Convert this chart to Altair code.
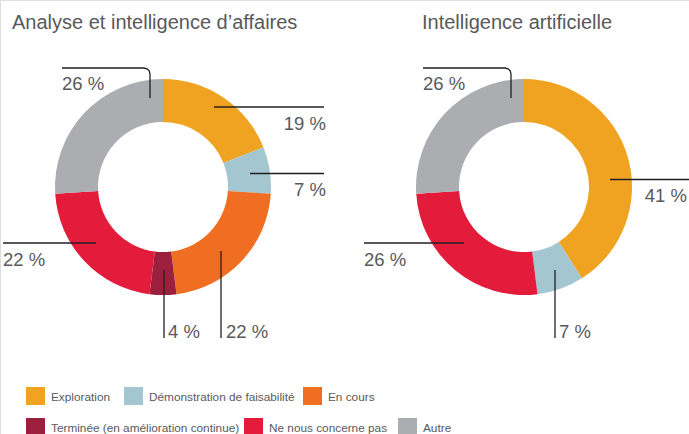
import altair as alt
import pandas as pd

# ---------------- data ----------------
categories = ["Exploration", "Démonstration de faisabilité", "En cours",
              "Terminée (en amélioration continue)", "Ne nous concerne pas", "Autre"]
colors = ["#F0A321", "#A3C6D1", "#F06E21", "#9C1F3D", "#E31C3C", "#ABADB0"]
titles = ["Analyse et intelligence d’affaires", "Intelligence artificielle"]
values_bi = [19, 7, 22, 4, 22, 26]
values_ai = [41, 7, 0, 0, 26, 26]

# ---------------- layout (pixels) ----------------
W, H = 689, 434
TEXT = "#58595B"
FONT = "Liberation Sans"
centers = [(163, 187), (524, 187)]
R_OUT, R_IN = 108, 65
title_pos = [(12, 28.5), (422, 28.5)]

# leader lines / label anchors per donut, keyed by category index
ann = [
    {
        0: ([(214, 107), (324, 107)], (326, 129.5, "right")),
        1: ([(250, 173.5), (324, 173.5)], (326, 195.5, "right")),
        2: ([(221, 251), (221, 338)], (226, 338, "left")),
        3: ([(164, 270), (164, 338)], (168, 338, "left")),
        4: ([(3, 243), (96, 243)], (3, 266, "left")),
        5: ([(62, 68), (144, 68), (147, 68.8), (149.2, 70.9), (150, 74), (150, 98)], (62, 90, "left")),
    },
    {
        0: ([(610, 179.5), (689, 179.5)], (687, 201.5, "right")),
        1: ([(555, 270), (555, 338)], (559, 338, "left")),
        4: ([(364, 243), (464, 243)], (364, 266, "left")),
        5: ([(423, 68), (505, 68), (508, 68.8), (510.2, 70.9), (511, 74), (511, 98)], (423, 90, "left")),
    },
]
legend_sq_x = [26, 124, 303, 26, 244, 398]
legend_row = [0, 0, 0, 1, 1, 1]
legend_sq_y = [(387, 405), (418, 436)]
legend_txt_y = [401, 432]

# ---------------- tables ----------------
xs = alt.Scale(domain=[0, W], range=[0, W], nice=False, zero=False)
ys = alt.Scale(domain=[0, H], range=[0, H], nice=False, zero=False)
cscale = alt.Scale(domain=categories, range=colors)

layers = []
line_rows, lab_rows = [], []
for d, vals in enumerate([values_bi, values_ai]):
    df = pd.DataFrame({"category": categories, "value": vals, "idx": range(len(categories))})
    df = df[df["value"] > 0]
    cx, cy = centers[d]
    layers.append(
        alt.Chart(df).mark_arc(x=cx, y=cy, radius=R_OUT, radius2=R_IN).encode(
            theta=alt.Theta("value:Q", stack=True),
            color=alt.Color("category:N", scale=cscale, legend=None),
            order=alt.Order("idx:Q"),
        )
    )
    for i, (pts, (lx, ly, al)) in ann[d].items():
        for k, (px, py) in enumerate(pts):
            line_rows.append({"id": f"{d}-{i}", "k": k, "x": px, "y": py})
        lab_rows.append({"x": lx, "y": ly, "al": al, "text": f"{vals[i]} %"})

lines = pd.DataFrame(line_rows)
labs = pd.DataFrame(lab_rows)

layers.append(
    alt.Chart(lines).mark_line(color="#231F20", strokeWidth=1.3).encode(
        x=alt.X("x:Q", scale=xs, axis=None),
        y=alt.Y("y:Q", scale=ys, axis=None),
        detail="id:N",
        order="k:Q",
    )
)
for al in ["left", "right"]:
    layers.append(
        alt.Chart(labs[labs["al"] == al]).mark_text(
            align=al, baseline="alphabetic", font=FONT, fontSize=18.5, color=TEXT
        ).encode(x=alt.X("x:Q", scale=xs, axis=None), y=alt.Y("y:Q", scale=ys, axis=None), text="text:N")
    )

tdf = pd.DataFrame({"t": titles, "x": [p[0] for p in title_pos], "y": [p[1] for p in title_pos]})
layers.append(
    alt.Chart(tdf).mark_text(align="left", baseline="alphabetic", font=FONT, fontSize=20, color=TEXT).encode(
        x=alt.X("x:Q", scale=xs, axis=None), y=alt.Y("y:Q", scale=ys, axis=None), text="t:N"
    )
)

leg = pd.DataFrame({
    "category": categories,
    "x": legend_sq_x,
    "x2": [v + 19 for v in legend_sq_x],
    "y": [legend_sq_y[r][0] for r in legend_row],
    "y2": [legend_sq_y[r][1] for r in legend_row],
    "tx": [v + 25 for v in legend_sq_x],
    "ty": [legend_txt_y[r] for r in legend_row],
})
layers.append(
    alt.Chart(leg).mark_rect().encode(
        x=alt.X("x:Q", scale=xs, axis=None), x2="x2:Q",
        y=alt.Y("y:Q", scale=ys, axis=None), y2="y2:Q",
        color=alt.Color("category:N", scale=cscale, legend=None),
    )
)
layers.append(
    alt.Chart(leg).mark_text(align="left", baseline="alphabetic", font=FONT, fontSize=11.8, color=TEXT).encode(
        x=alt.X("tx:Q", scale=xs, axis=None), y=alt.Y("ty:Q", scale=ys, axis=None), text="category:N"
    )
)

chart = alt.layer(*layers).properties(
    width=W, height=H, padding=0, autosize=alt.AutoSizeParams(type="none")
).configure_view(stroke=None).configure(background="white")

chart.save("out.html", embed_options={"renderer": "svg", "actions": False})
